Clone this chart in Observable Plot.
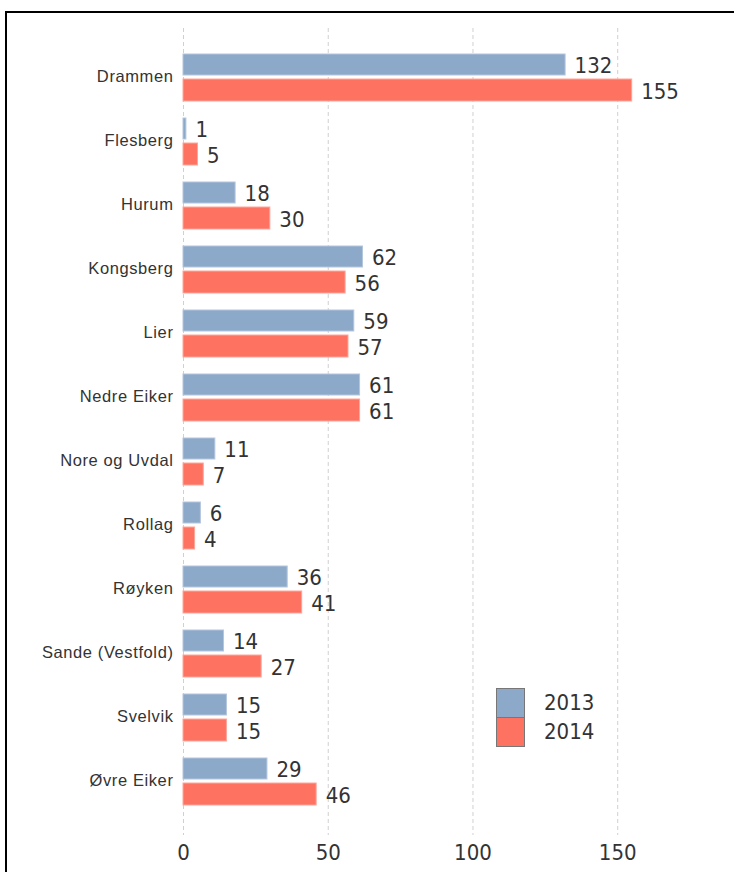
<!DOCTYPE html>
<html>
<head>
<meta charset="utf-8">
<script src="https://cdn.jsdelivr.net/npm/d3@7"></script>
<script src="https://cdn.jsdelivr.net/npm/@observablehq/plot@0.6"></script>
<style>
  html, body { margin: 0; padding: 0; background: #fff; }
  #wrap { position: relative; width: 734px; height: 872px; overflow: hidden; }
  #frame { position: absolute; left: 5px; top: 11px; width: 800px; height: 900px;
           border-left: 2px solid #000; border-top: 2px solid #000; pointer-events: none; }
  #legend { position: absolute; left: 496px; top: 688px; font-family: "Liberation Sans Narrow", "DejaVu Sans Condensed", "Liberation Sans", sans-serif; font-size: 22px; color: #333; }
  .row { display: flex; align-items: center; height: 29px; }
  .sw { width: 27px; height: 28px; border: 1px solid #777; box-sizing: content-box; margin-right: 19px; }
  .ylab text { letter-spacing: 0.6px; }
</style>
</head>
<body>
<div id="wrap">
  <div id="chart"></div>
  <div id="frame"></div>
  <div id="legend"></div>
</div>
<script>
const categories = ["Drammen", "Flesberg", "Hurum", "Kongsberg", "Lier", "Nedre Eiker", "Nore og Uvdal", "Rollag", "Røyken", "Sande (Vestfold)", "Svelvik", "Øvre Eiker"];
const values2013 = [132, 1, 18, 62, 59, 61, 11, 6, 36, 14, 15, 29];
const values2014 = [155, 5, 30, 56, 57, 61, 7, 4, 41, 27, 15, 46];
const years = ["2013", "2014"];
const colors = ["#8da9ca", "#fe7262"];
const xTicks = [0, 50, 100, 150];

const d13 = categories.map((c, i) => ({name: c, value: values2013[i]}));
const d14 = categories.map((c, i) => ({name: c, value: values2014[i]}));

const numFont = '"Liberation Sans Narrow", "DejaVu Sans Condensed", "Liberation Sans", sans-serif';

const chart = Plot.plot({
  width: 734,
  height: 872,
  marginLeft: 183,
  marginRight: 1,
  marginTop: 28,
  marginBottom: 37,
  style: {fontFamily: '"Liberation Sans", Arial, sans-serif', color: "#333", background: "transparent"},
  x: {domain: [0, 190], axis: null},
  y: {domain: categories, range: [43, 814], padding: 0, axis: null},
  marks: [
    Plot.ruleX(xTicks, {stroke: "#d0d0d0", strokeDasharray: "4,3", strokeWidth: 1}),
    Plot.barX(d13, {x: "value", y: "name", fill: colors[0], stroke: "#b4c6dc", strokeWidth: 1, insetTop: 9, insetBottom: 34}),
    Plot.barX(d14, {x: "value", y: "name", fill: colors[1], stroke: "#ffa59a", strokeWidth: 1, insetTop: 34, insetBottom: 8}),
    Plot.text(d13, {x: "value", y: "name", text: d => String(d.value), dx: 9, dy: -12, textAnchor: "start", fontSize: 22, fontFamily: numFont, fill: "#333"}),
    Plot.text(d14, {x: "value", y: "name", text: d => String(d.value), dx: 9, dy: 14, textAnchor: "start", fontSize: 22, fontFamily: numFont, fill: "#333"}),
    Plot.axisY({tickSize: 0, tickPadding: 10, fontSize: 16.5, label: null, className: "ylab", dy: -1}),
    Plot.axisX(xTicks, {tickSize: 0, tickPadding: 9, fontSize: 22, fontFamily: numFont, label: null, anchor: "bottom"})
  ]
});
document.getElementById("chart").appendChild(chart);

const legend = document.getElementById("legend");
years.forEach((y, i) => {
  const row = document.createElement("div");
  row.className = "row";
  const sw = document.createElement("div");
  sw.className = "sw";
  sw.style.background = colors[i];
  const t = document.createElement("span");
  t.textContent = y;
  row.appendChild(sw);
  row.appendChild(t);
  legend.appendChild(row);
});
</script>
</body>
</html>
